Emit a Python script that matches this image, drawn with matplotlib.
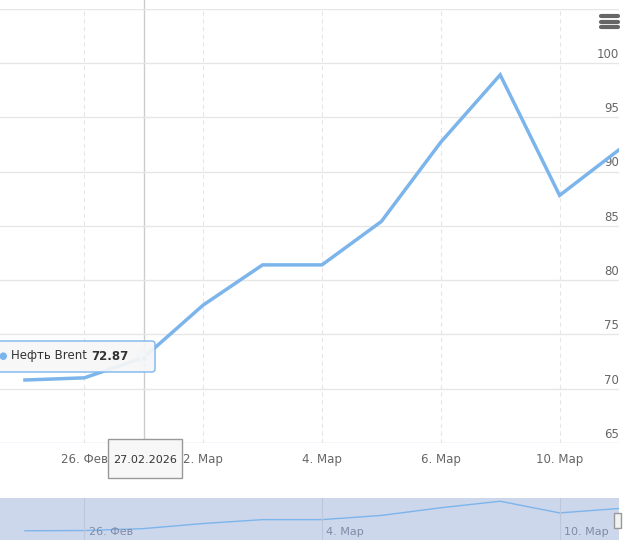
import matplotlib
matplotlib.use("Agg")
import matplotlib.pyplot as plt
from matplotlib.patches import FancyBboxPatch, Rectangle

dates = ["25.02", "26.02", "27.02", "02.03", "03.03", "04.03", "05.03", "06.03", "09.03", "10.03", "11.03"]
values = [70.8, 71.0, 72.87, 77.7, 81.4, 81.4, 85.4, 92.7, 98.9, 87.8, 92.0]
tick_idx = [1, 3, 5, 7, 9]
tick_labels = ["26. Фев", "2. Мар", "4. Мар", "6. Мар", "10. Мар"]
yticks = [65, 70, 75, 80, 85, 90, 95, 100]

plt.rcParams['font.family'] = ['DejaVu Sans']
fig = plt.figure(figsize=(6.4, 5.46), dpi=100)
W, H = 640, 546
def box(x0, y0, x1, y1):
    return [x0/W, 1-y1/H, (x1-x0)/W, (y1-y0)/H]

ax = fig.add_axes(box(0, 8.6, 619, 443))
x = list(range(len(values)))
ax.set_xlim(-0.42, 10)
ax.set_ylim(65, 105)
for s in ax.spines.values():
    s.set_visible(False)
ax.axhline(65, color="#ccd6eb", lw=1)
for yv in yticks[1:] + [105]:
    ax.axhline(yv, color="#e6e6e6", lw=1)
for t in tick_idx:
    ax.axvline(t, color="#e6e6e6", lw=0.8, ls=(0, (4, 3)))
ax.set_xticks([]); ax.set_yticks([])
for yv in yticks:
    ax.annotate(str(yv), (10, yv), xytext=(0, 1.5), textcoords="offset points",
                ha="right", va="bottom", fontsize=8.5, color="#666666")
for t, lab in zip(tick_idx, tick_labels):
    ax.annotate(lab, (t, 65), xytext=(0, -12), textcoords="offset points",
                ha="center", va="center", fontsize=8.5, color="#666666", annotation_clip=False)
ax.plot(x, values, color="#7cb5ec", lw=2.5, solid_joinstyle="miter", zorder=3)
ax.axvline(2, color="#cccccc", lw=1, zorder=1, ymax=1.02, clip_on=False)
ax.plot([2], [values[2]], "o", ms=12, color="#7cb5ec", alpha=0.25, zorder=4)
ax.plot([2], [values[2]], "o", ms=5, color="#7cb5ec", mec="white", mew=1, zorder=5)

# tooltip
fig.patches.append(FancyBboxPatch((-10/W, 1-372/H), 165/W, 31/H, boxstyle="round,pad=0,rounding_size=0.005",
                                  transform=fig.transFigure, fc=(0.97, 0.97, 0.97, 0.92), ec="#7cb5ec", lw=1))
fig.text(3/W, 1-356/H, "●", color="#7cb5ec", fontsize=7, va="center", ha="center")
t1 = fig.text(11/W, 1-356/H, "Нефть Brent", fontsize=8.5, color="#333333", va="center")
fig.canvas.draw()
bb = t1.get_window_extent()
fig.text(bb.x1/W + 4/W, 1-356/H, "72.87", fontsize=8.5, color="#333333", va="center", fontweight="bold")
# date label
fig.patches.append(Rectangle((108/W, 1-478/H), 74/W, 39/H, transform=fig.transFigure,
                             fc="#f7f7f7", ec="#999999", lw=1))
fig.text(145/W, 1-460/H, "27.02.2026", fontsize=8, color="#333333", ha="center", va="center")

# menu icon
for dy in (16, 21.5, 27):
    fig.add_artist(plt.Line2D([601/W, 618/W], [1-dy/H, 1-dy/H], color="#666666", lw=3,
                              solid_capstyle="round", transform=fig.transFigure))

# navigator
nav = fig.add_axes(box(0, 498, 619, 540))
nav.set_xlim(-0.42, 10)
nav.set_ylim(62, 102)
nav.set_facecolor("#cdd7eb")
for s in nav.spines.values():
    s.set_visible(False)
nav.set_xticks([]); nav.set_yticks([])
nav.plot(x, values, color="#7cb5ec", lw=1)
for t, lab in [(1, "26. Фев"), (5, "4. Мар"), (9, "10. Мар")]:
    nav.axvline(t, color="#bdc7dc", lw=0.8)
    nav.annotate(lab, (t, 62), xytext=(3, 2), textcoords="offset points",
                 fontsize=8, color="#7f8aa5", ha="left", va="bottom")
fig.patches.append(Rectangle((614/W, 1-528/H), 7/W, 15/H, transform=fig.transFigure,
                             fc="#f2f2f2", ec="#999999", lw=1))

fig.savefig("out.png", dpi=100)
